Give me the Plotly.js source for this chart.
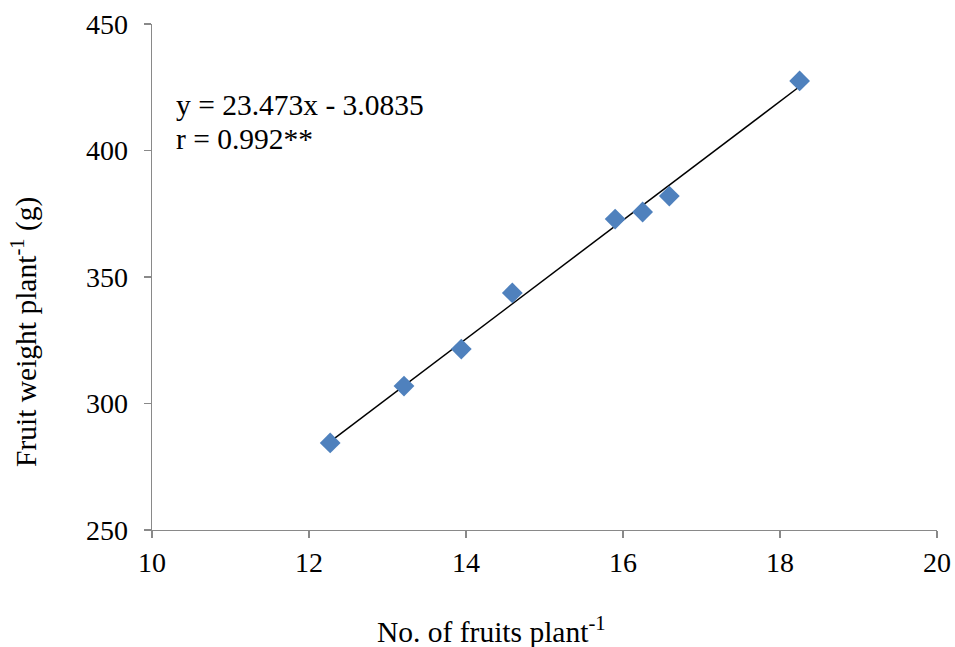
<!DOCTYPE html>
<html>
<head>
<meta charset="utf-8">
<script src="https://cdn.plot.ly/plotly-3.0.1.min.js"></script>
<style>html,body{margin:0;padding:0;background:#fff;}#chart{width:955px;height:647px;}</style>
</head>
<body>
<div id="chart"></div>
<script>
var fruitsPerPlant = [12.27, 13.21, 13.94, 14.59, 15.90, 16.25, 16.59, 18.25];
var fruitWeight = [284.4, 306.9, 321.5, 343.7, 372.9, 375.7, 382.0, 427.5];
var slope = 23.473;
var intercept = -3.0835;
var xTicks = [10, 12, 14, 16, 18, 20];
var yTicks = [250, 300, 350, 400, 450];
var xTitle = 'No. of fruits plant<sup>-1</sup>';
var yTitle = 'Fruit weight plant<sup>-1</sup> (g)';
var eqText = 'y = 23.473x - 3.0835';
var rText = 'r = 0.992**';

var xMin = Math.min.apply(null, fruitsPerPlant);
var xMax = Math.max.apply(null, fruitsPerPlant);
var trendX = [xMin, xMax];
var trendY = trendX.map(function(v){ return slope * v + intercept; });

var font = "'Liberation Serif', 'Times New Roman', serif";
var fs = 28;
var fsT = 29.5;

var data = [
  {x: trendX, y: trendY, mode: 'lines', type: 'scatter',
   line: {color: '#000000', width: 1.5}, hoverinfo: 'skip', showlegend: false},
  {x: fruitsPerPlant, y: fruitWeight, mode: 'markers', type: 'scatter',
   marker: {symbol: 'diamond', size: 16, color: '#4F81BD'}, showlegend: false}
];

var layout = {
  width: 955, height: 647,
  margin: {l: 152, r: 18, t: 24, b: 117},
  paper_bgcolor: '#ffffff', plot_bgcolor: '#ffffff',
  font: {family: font, size: fs, color: '#000000'},
  showlegend: false,
  xaxis: {
    range: [10, 20], tickvals: xTicks, ticktext: xTicks.map(String),
    showgrid: false, zeroline: false, showline: true, linecolor: '#898989', linewidth: 1.3,
    ticks: 'outside', ticklen: 7, tickcolor: '#898989', tickwidth: 1.3,
    tickfont: {family: font, size: fs, color: '#000000'}
  },
  yaxis: {
    range: [250, 450], tickvals: yTicks, ticktext: yTicks.map(String),
    showgrid: false, zeroline: false, showline: true, linecolor: '#898989', linewidth: 1.3,
    ticks: 'outside', ticklen: 7, tickcolor: '#898989', tickwidth: 1.3,
    ticklabelstandoff: 10,
    tickfont: {family: font, size: fs, color: '#000000'}
  },
  annotations: [
    {xref: 'paper', yref: 'paper', x: 0.028, y: 1 - (105 - 24) / 506, xanchor: 'left', yanchor: 'middle',
     text: eqText, showarrow: false, font: {family: font, size: fsT, color: '#000000'}},
    {xref: 'paper', yref: 'paper', x: 0.028, y: 1 - (139 - 24) / 506, xanchor: 'left', yanchor: 'middle',
     text: rText, showarrow: false, font: {family: font, size: fsT, color: '#000000'}},
    {xref: 'paper', yref: 'paper', x: (491 - 152) / 785, y: (530 - 630) / 506, xanchor: 'center', yanchor: 'middle',
     text: xTitle, showarrow: false, font: {family: font, size: fsT, color: '#000000'}},
    {xref: 'paper', yref: 'paper', x: (24 - 152) / 785, y: (530 - 332) / 506, xanchor: 'center', yanchor: 'middle',
     text: yTitle, textangle: -90, showarrow: false, font: {family: font, size: fsT, color: '#000000'}}
  ]
};

Plotly.newPlot('chart', data, layout, {displayModeBar: false, staticPlot: true});
</script>
</body>
</html>
